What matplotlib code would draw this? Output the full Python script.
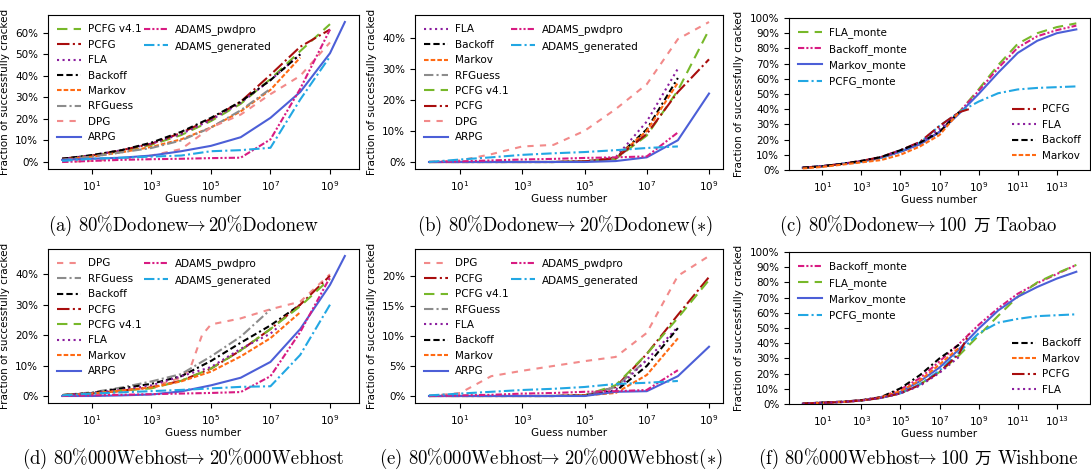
import numpy as np
import matplotlib
matplotlib.use("Agg")
import matplotlib.pyplot as plt
from matplotlib.lines import Line2D
from matplotlib.ticker import PercentFormatter, MultipleLocator, NullLocator, FixedLocator

# guess numbers are 10**k, k read off the log axis
EXP = [0, 1, 2, 3, 4, 5, 6, 7, 8, 9]
EXP_MONTE = list(range(15))

# (a) 80%Dodonew -> 20%Dodonew, % cracked
a_pcfg41 = [1.5, 3, 5, 8, 12.5, 19, 27, 38.5, 51.5, 64]
a_pcfg = [1.5, 3, 5.5, 8.5, 13.5, 20, 28, 40.5, 53.5, 61.5]
a_fla = [1.5, 3, 5.5, 8.5, 13, 19.5, 27.5, 38, 50]
a_backoff = [1.5, 3.2, 5.5, 9, 14, 20.5, 28, 38, 50]
a_markov = [1, 2.5, 4.5, 7, 10.5, 16, 23.5, 33.5, 48.5]
a_rfguess = [1, 2.5, 4.5, 6.5, 10, 16, 24, 34]
a_dpg = [0, 0.5, 1.5, 3, 6, 16, 22, 31.5, 40, 55.5]
a_arpg_exp = [0, 1, 2, 3, 4, 5, 6, 7, 8, 9, 9.5]
a_arpg = [1, 1.5, 2, 3, 5, 7.5, 11.5, 20.5, 32.5, 50.5, 65]
a_pwdpro = [0, 0.5, 1, 1.3, 1.5, 1.8, 2, 10.5, 34, 61.5]
a_generated = [0.5, 1.5, 2, 2.5, 3, 5, 5.5, 6.6, 29, 49]

# (b) 80%Dodonew -> 20%Dodonew(*)
b_fla = [0, 0, 0, 0, 0, 0.2, 1.5, 13, 30]
b_backoff = [0, 0, 0, 0, 0, 0.2, 1.2, 10.5, 27]
b_markov = [0, 0, 0, 0, 0, 0.2, 1.2, 10, 25.5]
b_rfguess = [0, 0, 0, 0, 0, 0.2, 1, 9]
b_pcfg41 = [0, 0, 0, 0, 0, 0.2, 1, 8.5, 23, 42.5]
b_pcfg = [0, 0, 0, 0, 0, 0.2, 1.2, 9, 22.5, 33]
b_dpg = [0, 0.5, 2.5, 5, 5.5, 10, 17, 25, 39.5, 45]
b_arpg = [0, 0, 0, 0, 0, 0, 0.3, 1.5, 7, 22]
b_pwdpro = [0, 0.2, 0.5, 0.8, 1, 1.3, 1.5, 1.8, 9.5]
b_generated = [0, 0.8, 1.5, 2.3, 2.8, 3.2, 3.8, 4.5, 5]

# (c) 80%Dodonew -> 100万 Taobao
c_fla_monte = [1.5, 2.5, 4, 5.5, 8, 12, 17, 25, 38, 53, 69, 83, 90, 94, 96.5]
c_backoff_monte = [1.5, 2.5, 4, 5.5, 8, 12, 17, 25, 38, 52, 67, 80.5, 88, 92, 95]
c_markov_monte = [1.5, 2.5, 4, 5.5, 8, 12, 17, 25, 37, 50, 64, 77, 85, 90, 92.5]
c_pcfg_monte = [1.5, 2.5, 4, 5.5, 8, 12.5, 18, 29, 38, 45, 50.5, 53, 54, 54.5, 55]
c_pcfg_exp = [0, 1, 2, 3, 4, 5, 6, 7, 8, 8.5]
c_pcfg = [1.5, 2.5, 4, 6, 8.5, 13, 18.5, 29, 38, 40]
c_fla = [1.5, 2.5, 4, 6, 8.5, 13, 18, 27, 38]
c_backoff = [1.5, 2.5, 4, 6, 8.5, 13, 18, 25, 38]
c_markov = [1, 2, 3.5, 5, 6.5, 10, 15.5, 23, 38]

# (d) 80%000Webhost -> 20%000Webhost
d_dpg_exp = [0, 1, 2, 3, 4, 4.3, 4.7, 5, 6, 7, 8, 9]
d_dpg = [0, 0.5, 1.5, 3, 6, 9, 20, 23.5, 25.5, 28.5, 31, 40]
d_rfguess = [0.3, 1.2, 2.8, 4.8, 7.2, 13, 19.5, 28.4]
d_backoff = [0.3, 1, 2.5, 4, 6.5, 11.5, 17.5, 23.2, 30]
d_pcfg = [0.3, 0.8, 1.8, 2.8, 5, 9, 15, 22, 30, 39.5]
d_pcfg41 = [0.3, 0.8, 1.8, 2.5, 5, 9, 15, 22, 29.5, 38.5]
d_fla_exp = [0, 1, 2, 3, 4, 5, 6, 7, 7.3]
d_fla = [0.3, 1, 2, 3.5, 6.5, 9.5, 15.5, 20.5, 23]
d_markov = [0.2, 0.8, 1.8, 2.8, 4.8, 8, 13, 19, 27.5]
d_arpg_exp = [0, 1, 2, 3, 4, 5, 6, 7, 8, 9, 9.5]
d_arpg = [0, 0, 0.2, 0.5, 1.5, 3.5, 6, 11.2, 22, 36.5, 46]
d_pwdpro = [0, 0.2, 0.4, 0.6, 0.8, 1, 1.3, 6.5, 21, 39]
d_generated = [0.2, 0.8, 1.2, 1.6, 2, 2.5, 3, 3.2, 13.5, 30]

# (e) 80%000Webhost -> 20%000Webhost(*)
e_dpg = [0, 0.5, 3.3, 4.2, 5, 5.8, 6.5, 10.5, 20, 23.3]
e_pcfg = [0, 0, 0, 0, 0, 0.1, 1.5, 7, 13.5, 19.8]
e_pcfg41 = [0, 0, 0, 0, 0, 0.1, 1.8, 7, 13, 19.3]
e_rfguess = [0, 0, 0, 0, 0, 0.1, 1.5, 6]
e_fla = [0, 0, 0, 0, 0, 0.1, 1, 6, 11.5]
e_backoff = [0, 0, 0, 0, 0, 0.1, 0.8, 5, 11.3]
e_markov = [0, 0, 0, 0, 0, 0.1, 0.5, 3.5, 9.6]
e_arpg = [0, 0, 0, 0, 0, 0, 0.7, 0.8, 3.3, 8.2]
e_pwdpro = [0, 0.1, 0.2, 0.4, 0.5, 0.7, 0.8, 1, 4.3]
e_generated = [0.1, 0.4, 0.7, 1, 1.2, 1.5, 2, 2.2, 2.5]

# (f) 80%000Webhost -> 100万 Wishbone
f_backoff_monte = [0.2, 1, 1.5, 2.5, 4.5, 9.5, 17, 28, 39.5, 52, 63, 72.5, 79.5, 85.5, 91.5]
f_fla_monte = [0.2, 0.8, 1.3, 2.3, 4, 7, 13, 21, 32, 45, 58, 70.5, 80, 86, 91.5]
f_markov_monte = [0.2, 0.8, 1.3, 2.3, 4.3, 8, 15, 24, 36, 49.5, 61.5, 70.5, 77, 82.5, 87]
f_pcfg_monte = [0.2, 0.8, 1.3, 2.3, 4, 7, 13, 22, 34, 46.5, 53.5, 56, 57.8, 58.4, 59]
f_backoff = [0.2, 1, 1.5, 2.5, 4.5, 10.3, 19, 30, 39]
f_markov = [0.2, 0.8, 1.3, 2.3, 4.3, 8.5, 15.5, 26, 37]
f_pcfg_exp = [0, 1, 2, 3, 4, 5, 6, 7, 8, 8.5]
f_pcfg = [0.2, 0.8, 1.3, 2.3, 4, 7, 12.5, 21, 33, 46]
f_fla = [0.2, 0.8, 1.3, 2.3, 4, 7, 12, 20.5, 31]

ARROW = r"$\!\!\rightarrow$"
# caption pieces: latin parts in Computer Modern, the CJK sign in Noto
CAPTIONS = [
    ["(a) 80%Dodonew" + ARROW, "20%Dodonew"],
    ["(b) 80%Dodonew" + ARROW, r"20%Dodonew$(\ast)$"],
    ["(c) 80%Dodonew" + ARROW, "100", "万", "Taobao"],
    ["(d) 80%000Webhost" + ARROW, "20%000Webhost"],
    ["(e) 80%000Webhost" + ARROW, r"20%000Webhost$(\ast)$"],
    ["(f) 80%000Webhost" + ARROW, "100", "万", "Wishbone"],
]

STYLE = {
    'PCFG v4.1': ('#77b82a', (0, (5, 3))),
    'PCFG': ('#a80d0d', (0, (6, 1.6, 1, 1.6))),
    'FLA': ('#8b1e9e', (0, (1, 1.65))),
    'Backoff': ('black', (0, (3, 1.5, 3, 1.5, 1, 1.5))),
    'Markov': ('#ff6a13', (0, (2.2, 1))),
    'RFGuess': ('#8c8c8c', (0, (4.5, 1.5, 1, 1.5))),
    'DPG': ('#f28a8a', (0, (3, 3))),
    'ARPG': ('#4c5fd7', '-'),
    'ADAMS_pwdpro': ('#d81b82', (0, (3, 1, 1, 1, 1, 1))),
    'ADAMS_generated': ('#22a7e3', (0, (5, 1.5, 1, 1.5))),
}
STYLE['FLA_monte'] = STYLE['PCFG v4.1']
STYLE['Backoff_monte'] = STYLE['ADAMS_pwdpro']
STYLE['Markov_monte'] = STYLE['ARPG']
STYLE['PCFG_monte'] = STYLE['ADAMS_generated']

FS = 7.5
W, H = 1091, 470


def draw(ax, name, ys, exps=None):
    if exps is None:
        exps = (EXP_MONTE if len(ys) > 10 else EXP)[:len(ys)]
    color, ls = STYLE[name]
    ax.plot(10.0 ** np.array(exps), np.array(ys) / 100.0, color=color,
            linestyle=ls, lw=1.5, label=name)


def setup(ax, ystep, last_exp):
    ax.set_xscale('log')
    ax.xaxis.set_major_locator(FixedLocator([10.0 ** k for k in range(1, last_exp + 1, 2)]))
    ax.xaxis.set_minor_locator(NullLocator())
    ax.yaxis.set_major_locator(MultipleLocator(ystep))
    ax.yaxis.set_major_formatter(PercentFormatter(1.0, decimals=0))
    ax.tick_params(labelsize=FS)
    ax.set_xlabel('Guess number', fontsize=FS, labelpad=1)
    ax.set_ylabel('Fraction of successfully cracked', fontsize=FS)


def legend_kw():
    return dict(frameon=False, fontsize=FS, labelspacing=0.52, handlelength=2.3,
                handletextpad=0.6, borderaxespad=0.5)


def two_col_legend(ax, first, second):
    lines = {l.get_label(): l for l in ax.get_lines()}
    pad = len(first) - len(second)
    blank = Line2D([], [], linestyle='none')
    hs = [lines[n] for n in first] + [lines[n] for n in second] + [blank] * pad
    labels = first + second + [''] * pad
    ax.legend(hs, labels, ncol=2, loc='upper left', columnspacing=0.3, **legend_kw())


def split_legend(ax, upper, lower):
    lines = {l.get_label(): l for l in ax.get_lines()}
    leg1 = ax.legend([lines[n] for n in upper], upper, loc='upper left', **legend_kw())
    ax.add_artist(leg1)
    ax.legend([lines[n] for n in lower], lower, loc='lower right', **legend_kw())


def make_axes(fig, l, r, t, b):
    return fig.add_axes([l / W, 1 - b / H, (r - l) / W, (b - t) / H])


def caption(fig, cx, base_y, pieces):
    # lay the pieces out side by side, then centre the whole line on cx
    renderer = fig.canvas.get_renderer()
    items = []
    for s in pieces:
        if s == "万":
            t = fig.text(0, 1 - base_y / H, s, fontsize=12, family='Noto Sans CJK JP',
                         va='baseline')
        else:
            t = fig.text(0, 1 - base_y / H, s, fontsize=13.5, family='cmr10',
                         math_fontfamily='cm', va='baseline')
        items.append((s, t, t.get_window_extent(renderer).width))
    gaps = [3 if s1.endswith(ARROW) else 6 for s1, _, _ in items[:-1]]
    total = sum(w for _, _, w in items) + sum(gaps)
    x = cx - total / 2
    for i, (_, t, w) in enumerate(items):
        t.set_x(x / W)
        x += w + (gaps[i] if i < len(gaps) else 0)


fig = plt.figure(figsize=(W / 100, H / 100), dpi=100)

# (a)
ax = make_axes(fig, 48, 359, 15, 169)
draw(ax, 'PCFG v4.1', a_pcfg41)
draw(ax, 'PCFG', a_pcfg)
draw(ax, 'FLA', a_fla)
draw(ax, 'Backoff', a_backoff)
draw(ax, 'Markov', a_markov)
draw(ax, 'RFGuess', a_rfguess)
draw(ax, 'DPG', a_dpg)
draw(ax, 'ARPG', a_arpg, a_arpg_exp)
draw(ax, 'ADAMS_pwdpro', a_pwdpro)
draw(ax, 'ADAMS_generated', a_generated)
setup(ax, 0.1, 9)
two_col_legend(ax, ['PCFG v4.1', 'PCFG', 'FLA', 'Backoff', 'Markov', 'RFGuess', 'DPG', 'ARPG'],
               ['ADAMS_pwdpro', 'ADAMS_generated'])

# (b)
ax = make_axes(fig, 415, 723, 15, 169)
draw(ax, 'FLA', b_fla)
draw(ax, 'Backoff', b_backoff)
draw(ax, 'Markov', b_markov)
draw(ax, 'RFGuess', b_rfguess)
draw(ax, 'PCFG v4.1', b_pcfg41)
draw(ax, 'PCFG', b_pcfg)
draw(ax, 'DPG', b_dpg)
draw(ax, 'ARPG', b_arpg)
draw(ax, 'ADAMS_pwdpro', b_pwdpro)
draw(ax, 'ADAMS_generated', b_generated)
setup(ax, 0.1, 9)
two_col_legend(ax, ['FLA', 'Backoff', 'Markov', 'RFGuess', 'PCFG v4.1', 'PCFG', 'DPG', 'ARPG'],
               ['ADAMS_pwdpro', 'ADAMS_generated'])

# (c)
ax = make_axes(fig, 789, 1090, 18, 170)
draw(ax, 'FLA_monte', c_fla_monte)
draw(ax, 'Backoff_monte', c_backoff_monte)
draw(ax, 'Markov_monte', c_markov_monte)
draw(ax, 'PCFG_monte', c_pcfg_monte)
draw(ax, 'PCFG', c_pcfg, c_pcfg_exp)
draw(ax, 'FLA', c_fla)
draw(ax, 'Backoff', c_backoff)
draw(ax, 'Markov', c_markov)
setup(ax, 0.1, 13)
ax.set_ylim(0, 1)
split_legend(ax, ['FLA_monte', 'Backoff_monte', 'Markov_monte', 'PCFG_monte'],
             ['PCFG', 'FLA', 'Backoff', 'Markov'])

# (d)
ax = make_axes(fig, 48, 359, 249, 403)
draw(ax, 'DPG', d_dpg, d_dpg_exp)
draw(ax, 'RFGuess', d_rfguess)
draw(ax, 'Backoff', d_backoff)
draw(ax, 'PCFG', d_pcfg)
draw(ax, 'PCFG v4.1', d_pcfg41)
draw(ax, 'FLA', d_fla, d_fla_exp)
draw(ax, 'Markov', d_markov)
draw(ax, 'ARPG', d_arpg, d_arpg_exp)
draw(ax, 'ADAMS_pwdpro', d_pwdpro)
draw(ax, 'ADAMS_generated', d_generated)
setup(ax, 0.1, 9)
two_col_legend(ax, ['DPG', 'RFGuess', 'Backoff', 'PCFG', 'PCFG v4.1', 'FLA', 'Markov', 'ARPG'],
               ['ADAMS_pwdpro', 'ADAMS_generated'])

# (e)
ax = make_axes(fig, 415, 723, 249, 403)
draw(ax, 'DPG', e_dpg)
draw(ax, 'PCFG', e_pcfg)
draw(ax, 'PCFG v4.1', e_pcfg41)
draw(ax, 'RFGuess', e_rfguess)
draw(ax, 'FLA', e_fla)
draw(ax, 'Backoff', e_backoff)
draw(ax, 'Markov', e_markov)
draw(ax, 'ARPG', e_arpg)
draw(ax, 'ADAMS_pwdpro', e_pwdpro)
draw(ax, 'ADAMS_generated', e_generated)
setup(ax, 0.05, 9)
two_col_legend(ax, ['DPG', 'PCFG', 'PCFG v4.1', 'RFGuess', 'FLA', 'Backoff', 'Markov', 'ARPG'],
               ['ADAMS_pwdpro', 'ADAMS_generated'])

# (f)
ax = make_axes(fig, 789, 1090, 252, 404)
draw(ax, 'Backoff_monte', f_backoff_monte)
draw(ax, 'FLA_monte', f_fla_monte)
draw(ax, 'Markov_monte', f_markov_monte)
draw(ax, 'PCFG_monte', f_pcfg_monte)
draw(ax, 'Backoff', f_backoff)
draw(ax, 'Markov', f_markov)
draw(ax, 'PCFG', f_pcfg, f_pcfg_exp)
draw(ax, 'FLA', f_fla)
setup(ax, 0.1, 13)
ax.set_ylim(0, 1)
split_legend(ax, ['Backoff_monte', 'FLA_monte', 'Markov_monte', 'PCFG_monte'],
             ['Backoff', 'Markov', 'PCFG', 'FLA'])

# captions under each panel
cap_pos = [(183, 231), (565, 231), (918, 231), (183, 464), (551, 464), (918, 464)]
for (cx, cy), pieces in zip(cap_pos, CAPTIONS):
    caption(fig, cx, cy, pieces)

fig.savefig('out.png', dpi=100)
